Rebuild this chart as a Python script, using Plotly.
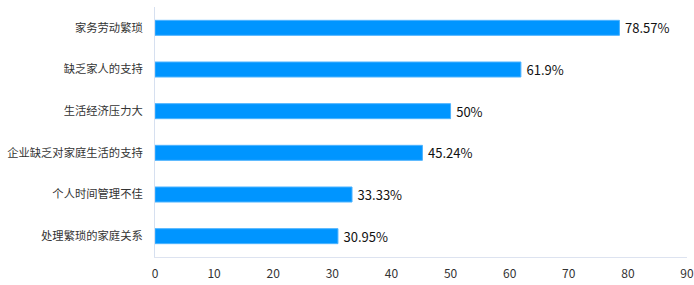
import plotly.graph_objects as go

categories = ["家务劳动繁琐", "缺乏家人的支持", "生活经济压力大", "企业缺乏对家庭生活的支持", "个人时间管理不佳", "处理繁琐的家庭关系"]
values = [78.57, 61.9, 50, 45.24, 33.33, 30.95]
labels = ["78.57%", "61.9%", "50%", "45.24%", "33.33%", "30.95%"]
x_ticks = [0, 10, 20, 30, 40, 50, 60, 70, 80, 90]

font_family = "Noto Sans CJK SC, Microsoft YaHei, sans-serif"

fig = go.Figure(go.Bar(
    y=categories[::-1],
    x=values[::-1],
    orientation="h",
    text=labels[::-1],
    texttemplate="\u2009%{text}",
    textposition="outside",
    constraintext="none",
    textfont=dict(size=13, color="#111111", family=font_family),
    marker=dict(color="#0095ff", line=dict(color="#4db3ff", width=1)),
    width=0.36,
    cliponaxis=False,
))

fig.update_layout(
    width=694, height=285,
    margin=dict(l=155, r=7, t=7, b=28),
    paper_bgcolor="white", plot_bgcolor="white",
    showlegend=False,
    font=dict(family=font_family, size=12, color="#333333"),
    bargap=0.64,
)
fig.update_xaxes(
    range=[0, 90], tickvals=x_ticks, showgrid=False, zeroline=False,
    showline=True, linecolor="#dde3f0", linewidth=1, automargin=False,
    ticks="", tickfont=dict(size=12, color="#333333"), ticklabelstandoff=6,
)
fig.update_yaxes(
    showgrid=False, zeroline=False, automargin=False,
    showline=True, linecolor="#d6e0f0", linewidth=1,
    ticks="", tickfont=dict(size=11.3, color="#333333"), ticklabelstandoff=9,
)

fig.write_html(
    "out.html",
    config={"displayModeBar": False},
    post_script="document.body.style.margin='0';document.body.style.padding='0';",
)
